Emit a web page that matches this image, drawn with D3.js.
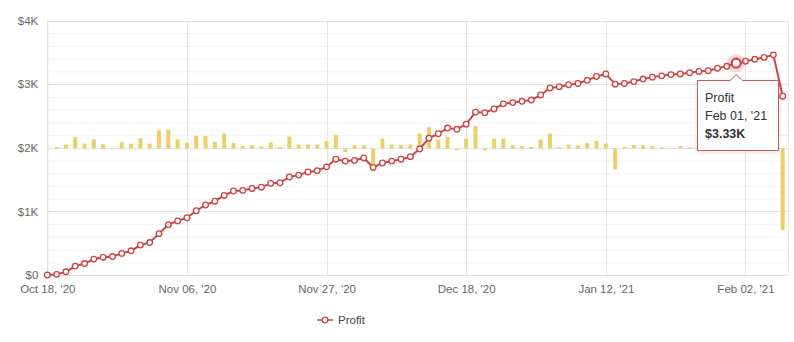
<!DOCTYPE html>
<html>
<head>
<meta charset="utf-8">
<script src="https://cdn.jsdelivr.net/npm/d3@7"></script>
<style>
  html, body { margin: 0; padding: 0; background: #fff; }
  svg { display: block; font-family: "Liberation Sans", Arial, sans-serif; }
</style>
</head>
<body>
<svg id="chart" width="794" height="342"></svg>
<script>
// ---- data (values in $K) ----
const profit = [
  0, 0.01, 0.05, 0.14, 0.18, 0.25, 0.28, 0.29, 0.34, 0.38,
  0.47, 0.51, 0.65, 0.79, 0.85, 0.90, 1.01, 1.10, 1.16, 1.25,
  1.32, 1.33, 1.36, 1.38, 1.44, 1.45, 1.54, 1.57, 1.62, 1.64,
  1.70, 1.82, 1.79, 1.80, 1.84, 1.69, 1.76, 1.79, 1.82, 1.86,
  1.98, 2.15, 2.22, 2.31, 2.29, 2.37, 2.56, 2.55, 2.61, 2.69,
  2.71, 2.73, 2.75, 2.83, 2.94, 2.96, 2.99, 3.01, 3.06, 3.12,
  3.16, 3.00, 3.01, 3.04, 3.08, 3.11, 3.13, 3.15, 3.16, 3.18,
  3.20, 3.21, 3.25, 3.28, 3.33, 3.36, 3.39, 3.42, 3.46, 2.81
];
const dailyChange = [
  0, 0.013, 0.032, 0.09, 0.04, 0.072, 0.035, 0.005, 0.05, 0.04,
  0.082, 0.04, 0.146, 0.151, 0.072, 0.048, 0.103, 0.10, 0.053, 0.12,
  0.045, 0.02, 0.027, 0.016, 0.048, 0.013, 0.095, 0.032, 0.032, 0.032,
  0.058, 0.11, -0.027, 0.027, 0.027, -0.13, 0.08, 0.032, 0.027, 0.032,
  0.12, 0.17, 0.072, 0.093, -0.013, 0.08, 0.18, -0.015, 0.08, 0.08,
  0.027, 0.019, 0.013, 0.072, 0.12, 0.013, 0.032, 0.024, 0.045, 0.061,
  0.04, -0.165, 0.013, 0.029, 0.027, 0.02, 0.01, 0.005, 0.02, 0.01,
  0.02, 0.015, 0.03, 0.03, 0.04, 0.03, 0.03, 0.03, 0.04, -0.65
];
const tickIndex = [0, 15, 30, 45, 60, 75];
const tickLabels = ["Oct 18, '20", "Nov 06, '20", "Nov 27, '20", "Dec 18, '20", "Jan 12, '21", "Feb 02, '21"];
const yTicks = [0, 1, 2, 3, 4];
const seriesName = "Profit";
const tooltipIndex = 74;
const tooltipDate = "Feb 01, '21";

// ---- layout ----
const plotLeft = 47.3, plotRight = 788, plotTop = 20.5, plotBottom = 275;
const lineColor = "#cc4545";
const barColor = "#efcd67";

const svg = d3.select("#chart");
const idx = d3.range(profit.length);

const x = d3.scalePoint().domain(idx).range([plotLeft, 782.7]);
const y = d3.scaleLinear().domain([0, 4]).range([plotBottom, plotTop]);
const y2 = d3.scaleLinear().domain([-1.008, 1.021]).range([plotBottom, plotTop]);

// minor gridlines
const minor = d3.range(0, 4.001, 0.2).filter(v => Math.abs(v - Math.round(v)) > 1e-6);
svg.append("g").selectAll("line").data(minor).join("line")
  .attr("x1", plotLeft).attr("x2", plotRight)
  .attr("y1", d => y(d) + 0.5).attr("y2", d => y(d) + 0.5)
  .attr("stroke", "#f4f4f4").attr("stroke-width", 1);

// major gridlines
svg.append("g").selectAll("line").data(yTicks).join("line")
  .attr("x1", plotLeft).attr("x2", plotRight)
  .attr("y1", d => Math.round(y(d)) + 0.5).attr("y2", d => Math.round(y(d)) + 0.5)
  .attr("stroke", "#e3e3e3").attr("stroke-width", 1);

// vertical gridlines
svg.append("g").selectAll("line").data(tickIndex).join("line")
  .attr("x1", d => Math.round(x(d)) + 0.5).attr("x2", d => Math.round(x(d)) + 0.5)
  .attr("y1", plotTop).attr("y2", plotBottom)
  .attr("stroke", "#e6e6e6");
svg.append("line")
  .attr("x1", plotRight + 0.5).attr("x2", plotRight + 0.5)
  .attr("y1", plotTop).attr("y2", plotBottom)
  .attr("stroke", "#e6e6e6");

// y axis labels
const yAxis = d3.axisLeft(y).tickValues(yTicks).tickSize(0).tickPadding(9)
  .tickFormat(d => "$" + (d === 0 ? "0" : d + "K"));
const gy = svg.append("g").attr("transform", `translate(${plotLeft},0)`).call(yAxis);
gy.select(".domain").attr("stroke", "#e0e0e0");
gy.selectAll("text").attr("fill", "#666").attr("font-size", 11.5)
  .attr("font-family", "Liberation Sans, Arial, sans-serif");

// x axis labels
const xAxis = d3.axisBottom(x).tickValues(tickIndex).tickSize(0).tickPadding(10)
  .tickFormat((d, i) => tickLabels[i]);
const gx = svg.append("g").attr("transform", `translate(0,${plotBottom})`).call(xAxis);
gx.select(".domain").attr("d", `M${plotLeft},0.5H${plotRight}`).attr("stroke", "#e0e0e0");
gx.selectAll("text").attr("fill", "#666").attr("font-size", 11.5)
  .attr("font-family", "Liberation Sans, Arial, sans-serif");

// bars (daily change, secondary scale)
const bw = 4;
svg.append("g").selectAll("rect").data(idx).join("rect")
  .attr("x", i => x(i) - bw / 2)
  .attr("width", bw)
  .attr("y", i => Math.min(y2(dailyChange[i]), y2(0)))
  .attr("height", i => Math.abs(y2(dailyChange[i]) - y2(0)))
  .attr("fill", barColor);

// line
const line = d3.line().x(i => x(i)).y(i => y(profit[i]));
svg.append("path").datum(idx).attr("d", line)
  .attr("fill", "none").attr("stroke", lineColor).attr("stroke-width", 2)
  .attr("stroke-linejoin", "round");

// markers
svg.append("g").selectAll("circle").data(idx).join("circle")
  .attr("cx", i => x(i)).attr("cy", i => y(profit[i])).attr("r", 2.8)
  .attr("fill", "#fff").attr("stroke", lineColor).attr("stroke-width", 1.3);

// highlighted point
const hx = x(tooltipIndex), hy = y(profit[tooltipIndex]);
svg.append("circle").attr("cx", hx).attr("cy", hy).attr("r", 9)
  .attr("fill", lineColor).attr("fill-opacity", 0.22);
svg.append("circle").attr("cx", hx).attr("cy", hy).attr("r", 4.5)
  .attr("fill", "#fff").attr("stroke", lineColor).attr("stroke-width", 2.2);

// tooltip
const tt = svg.append("g");
const bx0 = 697.5, bx1 = 778.5, by0 = 80.5, by1 = 150.5;
const ax = hx;
tt.append("path")
  .attr("d", `M${bx0},${by0}H${ax - 6}L${ax},${by0 - 6}L${ax + 6},${by0}H${bx1}V${by1}H${bx0}Z`)
  .attr("fill", "#fff").attr("stroke", "#c55a5a").attr("stroke-width", 1)
  .style("filter", "drop-shadow(0px 1px 2px rgba(0,0,0,0.15))");
tt.append("text").attr("x", 705).attr("y", 101.5).text(seriesName)
  .attr("font-size", 12.5).attr("fill", "#333");
tt.append("text").attr("x", 705).attr("y", 119.5).text(tooltipDate)
  .attr("font-size", 12.5).attr("fill", "#333");
tt.append("text").attr("x", 705).attr("y", 138).text("$" + profit[tooltipIndex].toFixed(2) + "K")
  .attr("font-size", 12.5).attr("font-weight", "bold").attr("fill", "#333");

// legend
const lg = svg.append("g").attr("transform", "translate(317,320)");
lg.append("line").attr("x1", 0).attr("x2", 16).attr("y1", 0).attr("y2", 0)
  .attr("stroke", lineColor).attr("stroke-width", 1.5);
lg.append("circle").attr("cx", 8).attr("cy", 0).attr("r", 2.8)
  .attr("fill", "#fff").attr("stroke", lineColor).attr("stroke-width", 1.3);
lg.append("text").attr("x", 21).attr("y", 4).text(seriesName)
  .attr("font-size", 11.5).attr("fill", "#444");
</script>
</body>
</html>
